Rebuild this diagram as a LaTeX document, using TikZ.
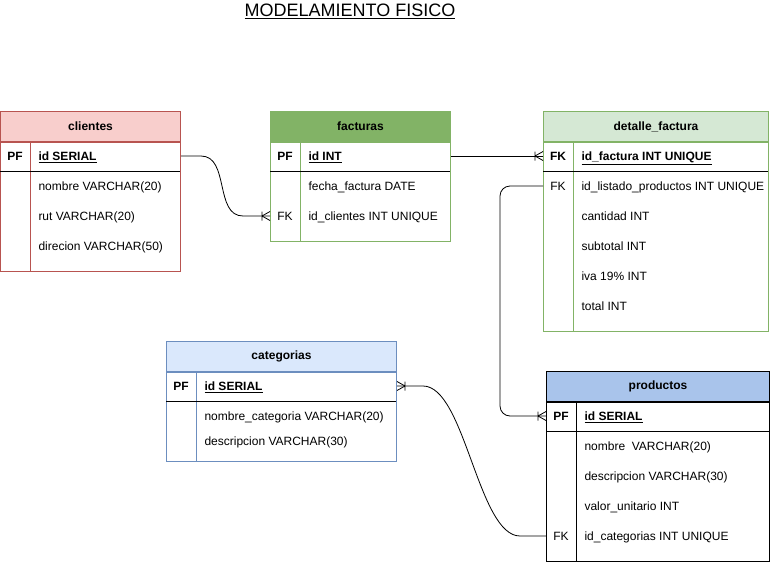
\documentclass[tikz,border=0pt]{standalone}
\usepackage{fontspec}
\setmainfont{Liberation Sans}
\usetikzlibrary{positioning,calc}
\definecolor{cliFill}{HTML}{F8CECC}
\definecolor{cliLine}{HTML}{B85450}
\definecolor{facFill}{HTML}{82B366}
\definecolor{detFill}{HTML}{D5E8D4}
\definecolor{catFill}{HTML}{DAE8FC}
\definecolor{catLine}{HTML}{6C8EBF}
\definecolor{proFill}{HTML}{A9C4EB}
\tikzstyle{tabhead}=[draw,font=\fontsize{12}{14}\selectfont\bfseries,minimum height=30pt,inner sep=0pt,anchor=north west]
\tikzstyle{field}=[anchor=base west,inner sep=0pt]
\tikzstyle{keyfield}=[anchor=base,inner sep=0pt]
\tikzstyle{strong}=[font=\fontsize{12}{14}\selectfont\bfseries]
\tikzstyle{link}=[line width=0.8pt]
\tikzset{crowfoot/.pic={\draw[line width=0.8pt] (-8,0) -- (0,4.5) (-8,0) -- (0,-4.5) (-8,-4.5) -- (-8,4.5);}}

\begin{document}
\begin{tikzpicture}[x=1pt,y=-1pt,font=\fontsize{12}{14}\selectfont,line width=1pt]
\useasboundingbox (0,0) rectangle (770,562);
\node[font=\fontsize{18}{21}\selectfont] (title) at (350,11) {\underline{MODELAMIENTO FISICO}};

% clientes
\node[tabhead,fill=cliFill,draw=cliLine,minimum width=180pt] (cli) at (0,111) {clientes};
\draw[cliLine] (cli.south west) rectangle (180,271) (30,141) -- (30,271);
\draw (0,171) -- (180,171);
\node[keyfield,strong] (cli-pf) at (15,160.5) {PF};
\node[field,strong] (cli-id) at (38,160.5) {\underline{id SERIAL}};
\node[field] (cli-nom) at (38,190.5) {nombre VARCHAR(20)};
\node[field] (cli-rut) at (38,220.5) {rut VARCHAR(20)};
\node[field] (cli-dir) at (38,250.5) {direcion VARCHAR(50)};

% facturas
\node[tabhead,fill=facFill,draw=facFill,minimum width=180pt] (fac) at (270,111) {facturas};
\draw[facFill] (fac.south west) rectangle (450,241) (300,141) -- (300,241);
\draw (270,171) -- (450,171);
\node[keyfield,strong] (fac-pf) at (285,160.5) {PF};
\node[field,strong] (fac-id) at (308,160.5) {\underline{id INT}};
\node[field] (fac-fec) at (308,190.5) {fecha\_factura DATE};
\node[keyfield] (fac-fk) at (285,220.5) {FK};
\node[field] (fac-cli) at (308,220.5) {id\_clientes INT UNIQUE};

% detalle_factura
\node[tabhead,fill=detFill,draw=facFill,minimum width=225pt] (det) at (543,111) {detalle\_factura};
\draw[facFill] (det.south west) rectangle (768,331) (573,141) -- (573,331);
\draw (543,171) -- (768,171);
\node[keyfield,strong] (det-fk1) at (558,160.5) {FK};
\node[field,strong] (det-fac) at (581,160.5) {\underline{id\_factura INT UNIQUE}};
\node[keyfield] (det-fk2) at (558,190.5) {FK};
\node[field] (det-lis) at (581,190.5) {id\_listado\_productos INT UNIQUE};
\node[field] (det-can) at (581,220.5) {cantidad INT};
\node[field] (det-sub) at (581,250.5) {subtotal INT};
\node[field] (det-iva) at (581,280.5) {iva 19\% INT};
\node[field] (det-tot) at (581,310.5) {total INT};

% categorias
\node[tabhead,fill=catFill,draw=catLine,minimum width=230pt] (cat) at (166,341) {categorias};
\draw[catLine] (cat.south west) rectangle (396,461) (196,371) -- (196,461);
\draw (166,401) -- (396,401);
\node[keyfield,strong] (cat-pf) at (181,390.5) {PF};
\node[field,strong] (cat-id) at (204,390.5) {\underline{id SERIAL}};
\node[field] (cat-nom) at (204,420.5) {nombre\_categoria VARCHAR(20)};
\node[field] (cat-des) at (204,445.5) {descripcion VARCHAR(30)};

% productos
\node[tabhead,fill=proFill,draw=black,minimum width=223pt] (pro) at (546,371) {productos};
\draw (pro.south west) rectangle (769,561) (576,401) -- (576,561);
\draw (546,431) -- (769,431);
\node[keyfield,strong] (pro-pf) at (561,420.5) {PF};
\node[field,strong] (pro-id) at (584,420.5) {\underline{id SERIAL}};
\node[field] (pro-nom) at (584,450.5) {nombre\ \ VARCHAR(20)};
\node[field] (pro-des) at (584,480.5) {descripcion VARCHAR(30)};
\node[field] (pro-val) at (584,510.5) {valor\_unitario INT};
\node[keyfield] (pro-fk) at (561,540.5) {FK};
\node[field] (pro-cat) at (584,540.5) {id\_categorias INT UNIQUE};

% relaciones
\coordinate (c1) at ($(cli-id.base -| cli.east)+(0,-4.5)$);
\coordinate (f1) at ($(fac-fk.base -| fac.west)+(0,-4.5)$);
\draw[link] (c1) -- ++(20,0) to[out=0,in=180] ($(f1)+(-27,0)$) -- (f1);
\pic at (f1) {crowfoot};

\coordinate (f2) at ($(fac-id.base -| fac.east)+(0,-4.5)$);
\coordinate (d1) at ($(det-fk1.base -| det.west)+(0,-4.5)$);
\draw[link] (f2) -- (d1);
\pic at (d1) {crowfoot};

\coordinate (d2) at ($(det-fk2.base -| det.west)+(0,-4.5)$);
\coordinate (p1) at ($(pro-pf.base -| pro.west)+(0,-4.5)$);
\coordinate (bend) at (500,300);
\draw[link,rounded corners=10pt] (d2) -| (bend) |- (p1);
\pic at (p1) {crowfoot};

\coordinate (k1) at ($(cat-id.base -| cat.east)+(0,-4.5)$);
\coordinate (p2) at ($(pro-fk.base -| pro.west)+(0,-4.5)$);
\draw[link] (k1) -- ++(26,0) to[out=0,in=180,looseness=0.6] ($(p2)+(-26,0)$) -- (p2);
\pic[rotate=180] at (k1) {crowfoot};
\end{tikzpicture}
\end{document}
